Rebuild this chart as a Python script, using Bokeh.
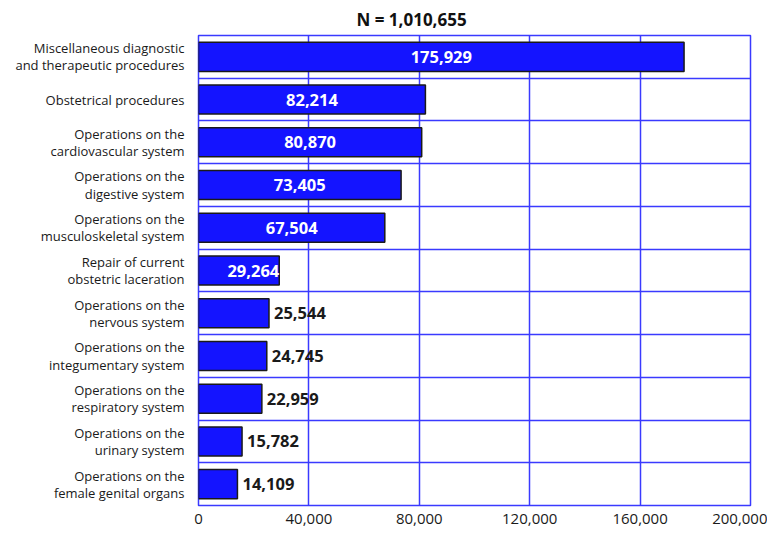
from bokeh.plotting import figure
from bokeh.models import Range1d, FixedTicker, NumeralTickFormatter, ColumnDataSource, Title
from bokeh.core.properties import value
from bokeh.embed import file_html
from bokeh.resources import INLINE

categories = [
    "Miscellaneous diagnostic\nand therapeutic procedures",
    "Obstetrical procedures",
    "Operations on the\ncardiovascular system",
    "Operations on the\ndigestive system",
    "Operations on the\nmusculoskeletal system",
    "Repair of current\nobstetric laceration",
    "Operations on the\nnervous system",
    "Operations on the\nintegumentary system",
    "Operations on the\nrespiratory system",
    "Operations on the\nurinary system",
    "Operations on the\nfemale genital organs",
]
counts = [175929, 82214, 80870, 73405, 67504, 29264, 25544, 24745, 22959, 15782, 14109]
x_ticks = [0, 40000, 80000, 120000, 160000, 200000]
title_text = "N = 1,010,655"

FONT = "Open Sans"
BLUE = "#1414ff"
GRID = "#3a3aff"

n = len(categories)
idx = list(range(n))
labels = [f"{c:,}" for c in counts]

p = figure(width=767, height=526, output_backend="svg", toolbar_location=None,
           x_range=Range1d(0, x_ticks[-1]), y_range=Range1d(n - 0.5, -0.5),
           min_border_left=198, min_border_right=17, min_border_top=4, min_border_bottom=0)

t = Title(text=title_text, align="left", offset=158, text_font=FONT,
          text_font_size="17px", text_font_style="bold", text_color="#111111",
          standoff=10)
p.add_layout(t, "above")

p.hbar(y=idx, right=counts, left=0, height=0.68, fill_color=BLUE,
       line_color="#1a1a1a", line_width=1.5)

cen = [i for i in idx if counts[i] > 50000]
end = [i for i in idx if 28000 < counts[i] <= 50000]
out = [i for i in idx if counts[i] <= 28000]

def src(sel, fx):
    return ColumnDataSource(dict(x=[fx(counts[i]) for i in sel], y=sel,
                                 t=[labels[i] for i in sel]))

LS = "16.5px"
p.text(x="x", y="y", text="t", source=src(cen, lambda v: v / 2),
       text_align="center", text_baseline="middle", text_color="white",
       text_font=value(FONT), text_font_size=LS, text_font_style="bold")
p.text(x="x", y="y", text="t", source=src(end, lambda v: v), x_offset=0,
       text_align="right", text_baseline="middle", text_color="white",
       text_font=value(FONT), text_font_size=LS, text_font_style="bold")
p.text(x="x", y="y", text="t", source=src(out, lambda v: v), x_offset=5,
       text_align="left", text_baseline="middle", text_color="#1a1a1a",
       text_font=value(FONT), text_font_size=LS, text_font_style="bold")

p.yaxis.ticker = FixedTicker(ticks=idx)
p.yaxis.major_label_overrides = {i: categories[i] for i in idx}
p.yaxis.major_label_text_font = FONT
p.yaxis.major_label_text_font_size = "13px"
p.yaxis.major_label_text_line_height = 0.95
p.yaxis.major_label_text_color = "#1a1a1a"
p.yaxis.major_label_text_align = "right"
p.yaxis.major_label_standoff = 8
p.yaxis.axis_line_color = None
p.yaxis.major_tick_line_color = None
p.yaxis.minor_tick_line_color = None

p.xaxis.ticker = FixedTicker(ticks=x_ticks)
p.xaxis.formatter = NumeralTickFormatter(format="0,0")
p.xaxis.major_label_text_font = FONT
p.xaxis.major_label_text_font_size = "15px"
p.xaxis.major_label_text_color = "#1a1a1a"
p.xaxis.major_label_standoff = 2
p.xaxis.axis_line_color = None
p.xaxis.major_tick_line_color = None
p.xaxis.minor_tick_line_color = None

p.xgrid.ticker = FixedTicker(ticks=x_ticks)
p.xgrid.grid_line_color = GRID
p.xgrid.grid_line_width = 1.5
p.ygrid.ticker = FixedTicker(ticks=[i + 0.5 for i in idx[:-1]])
p.ygrid.grid_line_color = GRID
p.ygrid.grid_line_width = 1.5

p.outline_line_color = GRID
p.outline_line_width = 1.5
p.background_fill_color = "white"
p.border_fill_color = "white"

open("out.html", "w").write(file_html(p, INLINE))
